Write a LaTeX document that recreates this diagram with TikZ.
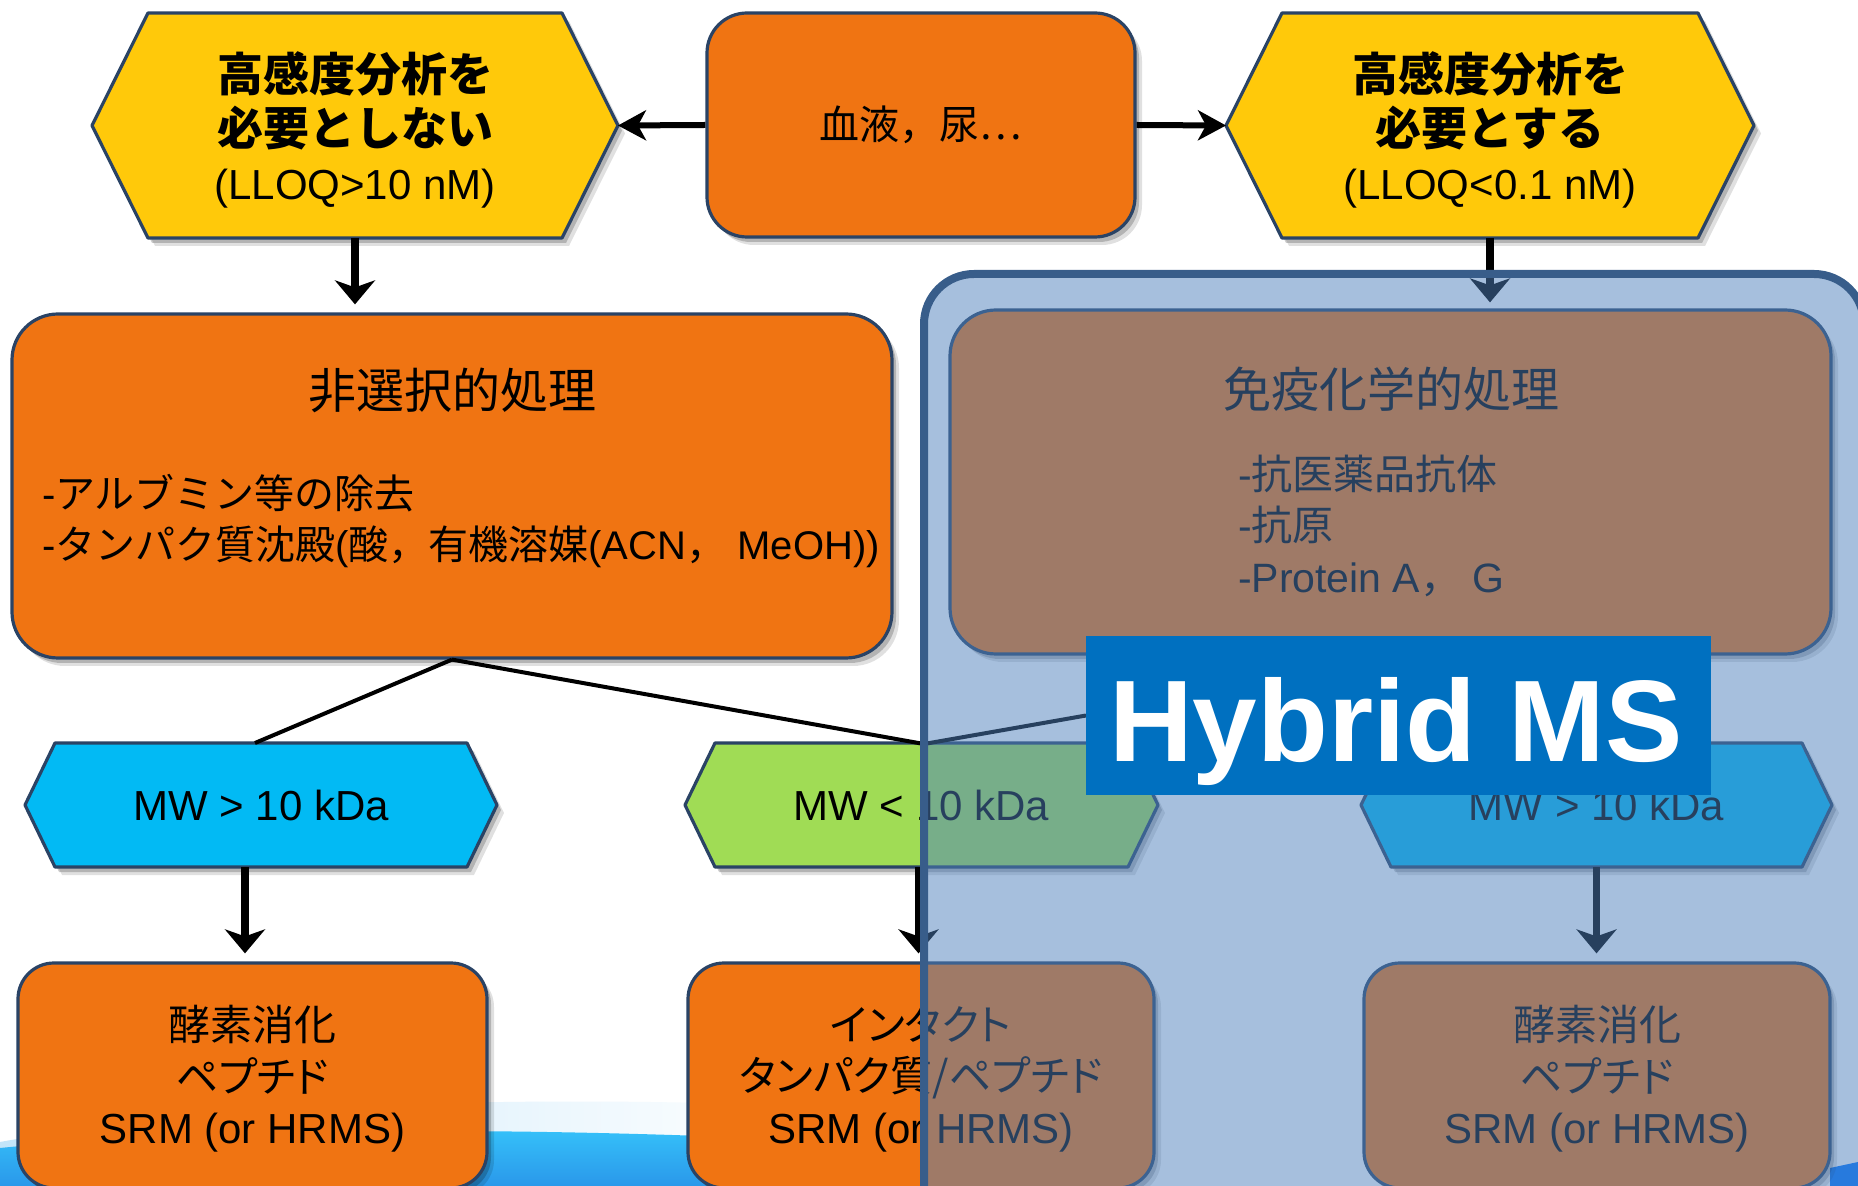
\documentclass[tikz,border=0pt]{standalone}
\usepackage{fontspec}
\setmainfont{Liberation Sans}
\newfontfamily\jp{Noto Sans CJK JP}
\newfontfamily\jpp[RawFeature=+palt]{Noto Sans CJK JP}
\usetikzlibrary{arrows.meta,shadows}
\pgfdeclarelayer{bg}
\pgfsetlayers{bg,main}
\definecolor{cyel}{HTML}{FFC90A}
\definecolor{corg}{HTML}{F07412}
\definecolor{ccyan}{HTML}{02BAF4}
\definecolor{cgrn}{HTML}{A0DC55}
\definecolor{cbord}{HTML}{2A4365}
\definecolor{ovl}{HTML}{4F81BD}
\definecolor{ovlb}{HTML}{385D8A}
\definecolor{hmsc}{HTML}{0070C0}
\definecolor{lband}{HTML}{C2E5F9}
\definecolor{swa}{HTML}{36C3FA}
\definecolor{swb}{HTML}{2A98EA}
\definecolor{swr}{HTML}{0073FF}
\tikzset{
  softshadow/.style={drop shadow={shadow xshift=3.5pt,shadow yshift=-4pt,opacity=0.12,fill=black},
                     drop shadow={shadow xshift=2pt,shadow yshift=-2.5pt,opacity=0.2,fill=black}},
  boxsh/.style={draw=cbord, line width=1.6pt, softshadow},
  rbox/.style={boxsh, fill=corg, rounded corners=20pt, inner sep=0pt, align=center},
  hexarea/.style={inner sep=0pt, outer sep=0pt, align=center},
  lbl/.style={inner sep=0pt, outer sep=0pt, text=black},
  varr/.style={line width=3.8pt, -{Stealth[length=12pt,width=20pt,inset=3.5pt]}},
  harr/.style={line width=3pt, -{Stealth[length=14pt,width=15pt,inset=4pt]}},
  conn/.style={line width=2pt},
  area/.style={draw=ovlb, line width=4pt, fill=ovl, fill opacity=0.5, rounded corners=25pt, inner sep=0pt},
  hmsbox/.style={fill=hmsc, inner sep=0pt, outer sep=0pt}
}
\newcommand\hexbg[3]{%
  \begin{pgfonlayer}{bg}
  \draw[boxsh, fill=#3, line join=round] (#1.west) -- ([xshift=#2]#1.north west) -- ([xshift=-#2]#1.north east)
     -- (#1.east) -- ([xshift=-#2]#1.south east) -- ([xshift=#2]#1.south west) -- cycle;
  \end{pgfonlayer}}
\begin{document}
\begin{tikzpicture}[x=1pt,y=-1pt]
\useasboundingbox (0,0) rectangle (929,593);
\begin{pgfonlayer}{bg}
\fill[white] (0,0) rectangle (929,593);
\shade[left color=lband, right color=white] (0,571) .. controls (100,553) and (250,547) .. (400,553) -- (400,593) -- (0,593) -- cycle;
\shade[top color=swa, bottom color=swb] (0,574) .. controls (100,564) and (250,563) .. (400,570) -- (400,593) -- (0,593) -- cycle;
\fill[swr] (915,584) -- (929,581) -- (929,593) -- (915,593) -- cycle;
\end{pgfonlayer}

% top row
\node[rbox, minimum width=214pt, minimum height=112pt] (mid) at (460.5,62.5)
  {\jp\fontsize{20}{24}\selectfont 血液，尿…};
\node[hexarea, minimum width=263pt, minimum height=112.5pt] (hL) at (177.5,62.75) {};
\hexbg{hL}{28pt}{cyel}
\node[lbl, align=center, font=\fontsize{23}{27}\selectfont] (hLt) at (177.5,65)
  {{\jp\bfseries 高感度分析を}\\{\jp\bfseries 必要としない}\\{\fontsize{21}{27}\selectfont (LLOQ>10 nM)}};
\node[hexarea, minimum width=264pt, minimum height=112.5pt] (hR) at (745,62.75) {};
\hexbg{hR}{28pt}{cyel}
\node[lbl, align=center, font=\fontsize{23}{27}\selectfont] (hRt) at (745,65)
  {{\jp\bfseries 高感度分析を}\\{\jp\bfseries 必要とする}\\{\fontsize{21}{27}\selectfont (LLOQ<0.1 nM)}};

% second row
\node[rbox, minimum width=440pt, minimum height=172pt, rounded corners=23pt] (nonsel) at (226,243) {};
\node[lbl, font=\jp\fontsize{24}{28}\selectfont] (nonselT) at (226,195) {非選択的処理};
\node[lbl, anchor=west, align=left, font=\fontsize{20}{25.5}\selectfont] (nonselB) at (21,260.75)
  {-{\jp アルブミン等の除去}\\-{\jp タンパク質沈殿}({\jp 酸，有機溶媒}(ACN{\jp ，} MeOH))};
\node[rbox, minimum width=440.5pt, minimum height=172pt, rounded corners=23pt] (immuno) at (695.25,241) {};
\node[lbl, font=\jp\fontsize{24}{28}\selectfont] (immunoT) at (695.5,194.5) {免疫化学的処理};
\node[lbl, anchor=west, align=left, font=\fontsize{20.5}{25.75}\selectfont] (immunoB) at (619,262.75)
  {-{\jp 抗医薬品抗体}\\-{\jp 抗原}\\-Protein A{\jp ，} G};

% third row
\node[hexarea, minimum width=236pt, minimum height=62pt, font=\fontsize{21}{25}\selectfont] (hx1) at (130.5,402.5) {MW > 10 kDa};
\hexbg{hx1}{15pt}{ccyan}
\node[hexarea, minimum width=236.5pt, minimum height=62pt, font=\fontsize{21}{25}\selectfont] (hx2) at (460.75,402.5) {MW < 10 kDa};
\hexbg{hx2}{15pt}{cgrn}
\node[hexarea, minimum width=235.5pt, minimum height=62pt, font=\fontsize{21}{25}\selectfont] (hx3) at (798.25,402.5) {MW > 10 kDa};
\hexbg{hx3}{15pt}{ccyan}

% bottom row
\node[rbox, minimum width=234.5pt, minimum height=112.5pt, rounded corners=18pt] (b1) at (126.25,537.75) {};
\node[lbl, align=center, font=\fontsize{21}{25.75}\selectfont] (b1t) at (126.25,539.5)
  {{\jpp 酵素消化}\\{\jpp ペプチド}\\SRM (or HRMS)};
\node[rbox, minimum width=233pt, minimum height=112.5pt, rounded corners=18pt] (b2) at (460.5,537.75) {};
\node[lbl, align=center, font=\fontsize{21}{25.75}\selectfont] (b2t) at (460.5,539.5)
  {{\jpp インタクト}\\{\jpp タンパク質/ペプチド}\\SRM (or HRMS)};
\node[rbox, minimum width=233pt, minimum height=112.5pt, rounded corners=18pt] (b3) at (798.5,537.75) {};
\node[lbl, align=center, font=\fontsize{21}{25.75}\selectfont] (b3t) at (798.5,539.5)
  {{\jpp 酵素消化}\\{\jpp ペプチド}\\SRM (or HRMS)};

% connectors
\coordinate (jn) at (462,372);
\draw[harr] (mid.west) -- (hL.east);
\draw[harr] (mid.east) -- (hR.west);
\draw[varr, shorten >=4pt] (hL.south) -- (hL.south |- nonsel.north);
\draw[varr, shorten >=3pt] (hR.south) -- (hR.south |- immuno.north);
\draw[conn] (nonsel.south) -- ([xshift=-3pt]hx1.north);
\draw[conn] (nonsel.south) -- (jn);
\draw[varr, shorten >=4pt] ([xshift=-8pt]hx1.south) -- ([xshift=-8pt]hx1.south |- b1.north);
\draw[varr, shorten >=4pt] ([xshift=-1.5pt]hx2.south) -- ([xshift=-1.5pt]hx2.south |- b2.north);
\draw[varr, shorten >=4pt] (hx3.south) -- (hx3.south |- b3.north);

% hybrid MS area
\node[hmsbox, minimum width=312.5pt, minimum height=79.5pt] (hms) at (699.25,357.75) {};
\draw[conn] (hms.west) -- (jn);
\node[area, minimum width=470pt, minimum height=513pt] (harea) at (697,393.5) {};
\node[hmsbox, minimum width=312.5pt, minimum height=79.5pt] (hms2) at (hms) {};
\node[lbl, text=white, font=\fontsize{58}{60}\selectfont\bfseries] (hmsT) at (698,366) {Hybrid MS};
\end{tikzpicture}
\end{document}
